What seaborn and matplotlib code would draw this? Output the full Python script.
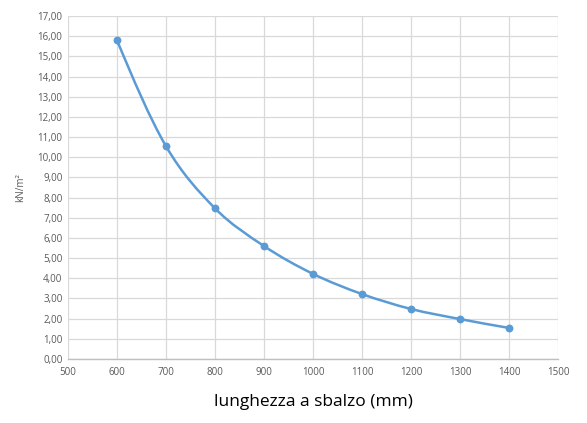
import numpy as np
import pandas as pd
import seaborn as sns
import matplotlib.pyplot as plt
from matplotlib.path import Path
from matplotlib.patches import PathPatch
from matplotlib.ticker import FuncFormatter, MultipleLocator

# dati
lunghezza = [600, 700, 800, 900, 1000, 1100, 1200, 1300, 1400]
carico = [15.8, 10.55, 7.47, 5.6, 4.22, 3.22, 2.48, 1.98, 1.54]

df = pd.DataFrame({'lunghezza': lunghezza, 'carico': carico})

sns.set_theme(style='whitegrid')
plt.rcParams['font.family'] = ['Open Sans', 'DejaVu Sans']

blu = '#5B9BD5'

fig = plt.figure(figsize=(5.87, 4.23), dpi=100)
ax = fig.add_axes([0.1158, 0.1513, 0.8348, 0.8107])

# linea smussata stile Excel (bezier, tangenti catmull-rom, estremi "naturali")
P = df[['lunghezza', 'carico']].to_numpy(float)
n = len(P)
T = np.zeros_like(P)
T[1:-1] = (P[2:] - P[:-2]) / 2
T[0] = 1.5 * (P[1] - P[0]) - 0.5 * T[1]
T[-1] = 1.5 * (P[-1] - P[-2]) - 0.5 * T[-2]
verts = [tuple(P[0])]
codes = [Path.MOVETO]
for i in range(n - 1):
    verts += [tuple(P[i] + T[i] / 3), tuple(P[i + 1] - T[i + 1] / 3), tuple(P[i + 1])]
    codes += [Path.CURVE4] * 3
ax.add_patch(PathPatch(Path(verts, codes), facecolor='none', edgecolor=blu,
                       lw=1.8, zorder=3))

sns.scatterplot(data=df, x='lunghezza', y='carico', ax=ax, color=blu, s=32,
                edgecolor=blu, linewidth=0, zorder=4)

ax.set_xlim(500, 1500)
ax.set_ylim(0, 17)
ax.xaxis.set_major_locator(MultipleLocator(100))
ax.yaxis.set_major_locator(MultipleLocator(1))
ax.yaxis.set_major_formatter(FuncFormatter(lambda v, p: f'{v:.2f}'.replace('.', ',')))

ax.grid(True, color='#d9d9d9', lw=0.9)
for s in ax.spines.values():
    s.set_visible(False)
ax.spines['bottom'].set_visible(True)
ax.spines['bottom'].set_color('#bfbfbf')
ax.spines['bottom'].set_linewidth(1)
ax.tick_params(axis='both', length=0, labelsize=7, labelcolor='#595959')
ax.tick_params(axis='x', pad=6)
ax.tick_params(axis='y', pad=4)

ax.set_xlabel('lunghezza a sbalzo (mm)', fontsize=12.5, color='black', labelpad=11)
ax.set_ylabel('kN/m²', fontsize=7, color='#595959', labelpad=8)

fig.savefig('out.png', dpi=100, facecolor='white')
